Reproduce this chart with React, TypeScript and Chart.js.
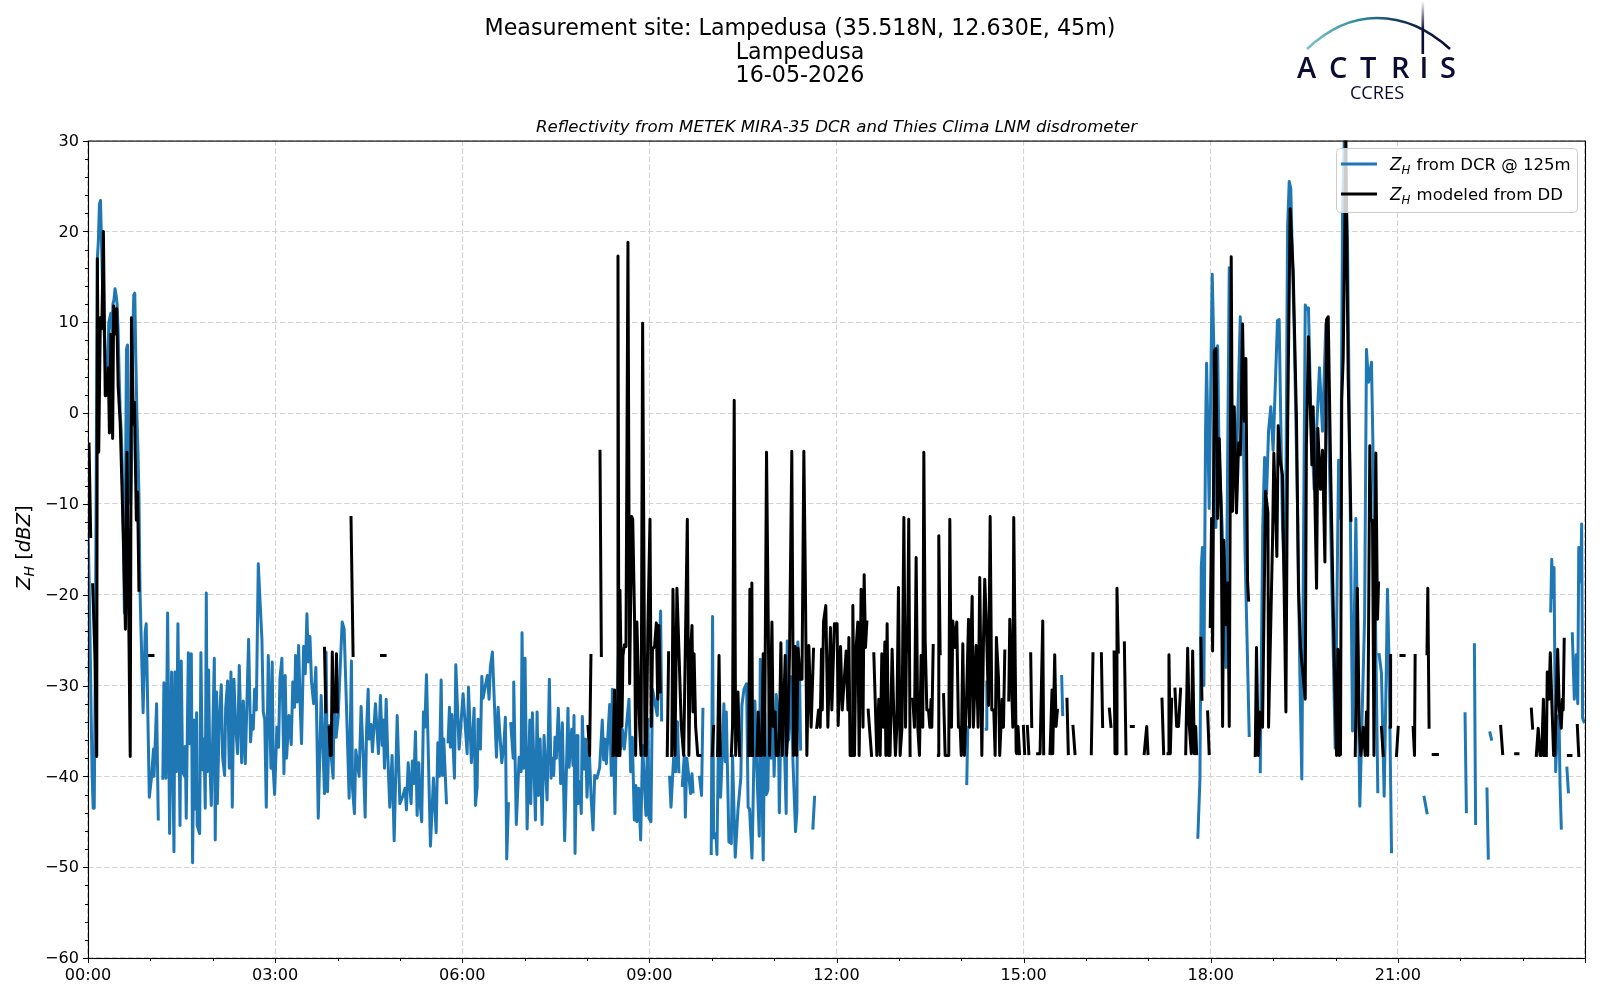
import React, { useEffect, useRef } from "react";
import { Chart, registerables } from "chart.js";

Chart.register(...registerables);

type Pt = [number, number | null];

const FONT = "'DejaVu Sans'";
const titleLines = ["Measurement site: Lampedusa (35.518N, 12.630E, 45m)", "Lampedusa", "16-05-2026"];
const subtitleText = "Reflectivity from METEK MIRA-35 DCR and Thies Clima LNM disdrometer";
const dcrLabel = " from DCR @ 125m";
const ddLabel = " modeled from DD";
const xMajorLabels = ["00:00", "03:00", "06:00", "09:00", "12:00", "15:00", "18:00", "21:00"];

const dcrNight: Pt[] = [
  [0,-12],[1,-18],[2,-25],[3,-33],[4,-40],[5,-43.5],[6,-43.5],[7,-28],[8,-5],[9,17],[10,19],[11,23],[12,23.4],[13,19],[14,14],[15,10],[16,8],[17,4],[18,2],[19,5],[20,10],[21,10.5],[22,11],[23,9],[24,12],[25,12.5],[26,13.7],[27,13],[28,12],[29,9],[30,4],[31,0],[32,-2],[33,-6],[34,-14],[35,-22],[36,-10],[37,7],[38,7.5],[39,-3],[40,-8],[41,-10],[42,-5],[43,8],[44,13],[45,13.2],[46,6],[47,0],[48,-4],[49,-9],[50,-19.4],[53,-33],[55,-24.1],[56,-23.2],[59,-42.3],[61,-40.2],[63,-37],[63.5,-40],[66,-32],[67.6,-44.7],[68,null],
  [72,-40.2],[73,-29.7],[75,-40.2],[76.6,-22],[78.5,-46.3],[80.4,-28.5],[82.7,-48.3],[83.6,-28.5],[85,-39.5],[86.5,-23.2],[88.5,-45.4],[89.7,-27.3],[91,-39.5],[93,-40],[93.6,-36.7],[94.5,-44.6],[96.5,-26.4],[97.7,-36.4],[99.4,-26.5],[100.6,-49.5],[102,-33.8],[103,-43.6],[104.5,-33],[105,-45.4],[107.4,-46.3],[108.6,-26.4],[110,-39.3],[111.5,-35.9],[112.8,-43.5],[113.8,-19.8],[114.7,-39.5],[116,-28.3],[117,-37.7],[118.6,-43.2],[121.5,-27],[122.4,-47],[123.7,-30.7],[124.4,-43],[126.3,-33.7],[128.2,-29.9],[129.5,-37.9],[131.4,-39.9],[132.4,-32.5],[134.3,-29.5],[135.9,-39.1],[137.5,-28.5],[138.8,-43.4],[140.4,-29.3],[142,-34.4],[143.9,-37.5],[145.5,-27.8],[147.8,-38.5],[149.4,-31.7],[151.3,-38.6],[154.5,-24.9],[156.4,-36.2],[158,-33.3],[159,-34.8],[160.3,-30.4],[161.9,-32.7],[163.8,-16.6],[165.7,-21.2],[167.3,-24.9],[168.6,-32.9],[170,-33.7],[171.5,-43.4],[173.4,-26.7],[176,-39.1],[177.2,-27.4],[178.2,-39.3],[179.5,-42],[181.7,-34.6],[183.3,-36.8],[184.6,-29.3],[186.5,-27],[188.5,-39.7],[189.7,-28.9],[191,-38],[193.3,-33.3],[195.5,-36.5],[197,-29.6],[198.7,-32.4],[199.7,-26.7],[201.3,-31.8],[202.6,-25.6],[204,-31.9],[205.4,-36.4],[207.4,-25.7],[209,-28.7],[210.6,-22.1],[211.9,-27.4],[213.5,-24.6],[215,-29.6],[217,-32],[219.2,-28],[221.5,-44.6],
];

const dcrDawn: Pt[] = [
  [224.3,-31.1],[227.5,-41.9],[229,-26.3],[230.4,-41.7],[232,-34.4],[233.6,-37.3],[235.8,-40.2],[236.8,-31.5],[238.7,-35.7],[240.6,-33.5],[242,-29.6],[244.5,-23],[246.4,-23.8],[248.6,-32.2],[251.2,-42.4],[253.4,-27.3],[254.4,-41.3],[256.3,-44.1],[257.6,-37.1],[260.8,-40],[262.7,-32.3],[264.6,-37.3],[266.6,-44.5],[267.9,-35.1],[269.5,-30.4],[270.4,-35.9],[272.3,-34.3],[273.6,-37.3],[276.5,-32],[279.4,-37.5],[281.3,-31.1],[283,-36.6],[284,-33.8],[285.2,-39.1],[286.8,-31.5],[288.4,-37.9],[290.3,-43.4],[292.5,-37.7],[294.5,-47.1],[297.4,-33.3],[300,-43],[303,-42.1],[305,-41.3],[306.3,-43.7],[308,-38.5],[310.8,-43],[312,-38.3],[313.4,-40.8],[315,-35.1],[316.6,-44.3],[318.2,-38.5],[319.8,-43.4],[321,-45],[322.7,-32.9],[324,-34.6],[325.6,-28.8],[329.4,-47.7],[332.3,-40.2],[334.9,-46.2],[336.5,-36.3],[338,-40],[339.7,-29.4],[341,-39.9],[342.2,-35.9],[344.8,-42.9],[345.5,null],
  [346.4,-36.2],[347.7,-32.4],[348.6,-36.8],[350,-33.2],[352.5,-40.2],[353.8,-27.7],[357,-37],[360.8,-30.9],[364.7,-37.5],[366,-30.2],[368.8,-38.5],[371.4,-32.5],[372.7,-43.2],[374.3,-41.2],[375.2,-33.7],[377.5,-37],[378.8,-29],[380,-31.4],[382.6,-29.8],[384.2,-28.9],[385.8,-31.5],[387,-28],[389,-26.3],[391,-32.2],[392.9,-37.9],[394.5,-32.4],[398,-38.5],[400,-36.6],[401.5,-33.5],[402.8,-49.1],[404.4,-43],[405.5,null],
  [406.7,-34.2],[409,-38],[409.5,-29.6],[412,-45.3],[414.7,-37.9],[416.6,-39.5],[417.5,-24.2],[419,-39.1],[420.4,-27],[422.4,-45.8],[425,-33.8],[425.9,-43],[427.5,-33],[430.4,-44.8],[432,-32.9],[433.3,-42.1],[434.9,-35.9],[436.8,-45.3],[438.7,-35.5],[441.6,-42.6],[443.8,-29.3],
];

const dcrMorning: Pt[] = [
  [445.4,-40.2],[447,-38],[448,-39.9],[449.2,-35.7],[450.5,-38],[452.4,-32.5],[454.7,-40.8],[456.3,-34.1],[458.5,-47.1],[461.7,-32.5],[462.7,-39],[465.3,-34.8],[466.5,-38.8],[467.5,-33.3],[468.5,-48.5],[470.4,-35.5],[471.3,-43],[473,-40.6],[474.5,-44.1],[475.5,-33.4],[477,-39.2],[478.7,-35.9],[480,-42.3],[482,-36.6],[484,-42.4],[485.8,-45.9],[487.4,-39.9],[489.6,-40.2],[492.2,-39],[494.7,-33.8],[496,-38.2],[497.3,-35.9],[498.6,-38.6],[501.8,-32.1],[503.4,-39.9],[504.4,-30.4],[506.9,-44.1],[508.2,-34.4],[510.4,-26],[512.4,-37],[514,-34.8],[515.9,-37],[518.5,-33.7],[520.4,-31.5],[522,-39.5],[523.6,-35.7],[525.5,-44.8],[527,-41],[528,-45],[529.7,-41.3],[531.6,-47],[533.5,-36.6],[536.7,-44.3],[538.6,-33.7],[539.6,-44.6],[541.5,-45],[543,-30.4],[547.6,-33.3],[550.8,-21.8],[551.8,-33.8],[552.5,null],
  [559.5,-40.1],[560.8,-43.4],[563.3,-38],[565.2,-39.5],[567,-34],[568.4,-39.5],[569,null],[571.7,-41],[573.6,-37.7],[574.6,-44.5],[576,-38],[579.7,-41.9],[581,-39.7],[582,-41.7],[583,null],
  [588.3,-40.1],[590.2,-42.1],[591.5,-32.6],[592,null],[599.5,-48.5],[600.8,-22.4],[601.8,-46.8],[604,-46.3],[605,-48.6],[606.6,-34.4],[608.5,-42.3],[609.8,-38.4],[611.7,-32],[613,-38.4],[614,-32.9],[616.5,-47.2],[618.8,-47.4],[620,-37.7],[622.6,-48.9],[625.2,-43.7],[628,-40.1],[629,-32.2],[631,-30.4],[633.5,-29.8],[635,-43.4],[636.4,-43.6],[638.7,-49],[639.6,-44.1],[641.5,-31.7],[643,-38],[645.7,-46.6],[646.7,-27.1],[648,-39.2],[649.5,-49.2],[651,-33],[652.5,-42],[654,-41.5],[655.5,-30],[657,-38],[658.5,-32],[660,-40],[662,-31],[664,-33],[665,-44],[666.5,-34],[668,-30],[670,-37],[671.6,-44.1],[672.6,-25.1],[674,-36],[676,-29],[678,-38],[680.6,-46.1],[681.9,-43.9],[682.8,-25.2],[684.4,-28.5],[685.5,-37],[686,null],
  [697.3,-45.7],[698.9,-42.3],[699.5,null],
  [845.3,-40.8],[846.3,-34.6],[847,null],[864,-34.8],[864.6,-29.6],[865,null],[936.6,-29],[937.6,-33.2],[938,null],
];

const dcrEvening: Pt[] = [
  [1067.6,-46.7],[1069.6,-40.3],[1070.9,-16.9],[1072,-14.8],[1073.4,-30],[1075,-2],[1076,5.5],[1078.5,-10.5],[1081.4,15.3],[1083,7],[1085,-12.6],[1086.6,7.4],[1088,-4.6],[1091,-12.6],[1094.6,-28],[1097.8,16],[1100.5,-7],[1104.5,-7],[1108.4,10.6],[1111.2,-0.4],[1113,-15.3],[1117,-35.5],[1118,null],
  [1127.6,-39.5],[1130,-12.6],[1131.8,-4.9],[1133.7,-8.9],[1135.6,-2],[1137.8,0.7],[1140,-4.1],[1144.2,10.2],[1145.8,10.3],[1149,-12.6],[1151.6,-20.6],[1153.9,20.4],[1155.5,25.5],[1157,24.7],[1160.3,8.7],[1163.5,-10.5],[1165.7,-28.6],[1167.6,-40.3],[1170.9,11.9],[1172.2,11.4],[1174,11.6],[1176.3,-0.4],[1179.5,-8.4],[1181.8,-2],[1184.6,5],[1187.5,-2],[1190.7,9.8],[1194,-4.6],[1199.7,-36.9],[1203,-5.2],[1205,-11.6],[1206.8,22],[1208.4,30],[1211.5,19.3],[1216.4,-35],[1219.6,-11.6],[1221,-23.3],[1223.4,-43.3],[1228,-22.5],
  [1229.8,7],[1231.7,3.4],[1234.6,5.6],[1237,-10],[1240.7,-41.7],[1241,null],[1242,-26.6],[1244.2,-28.6],[1246.8,-42.2],[1249,-27.3],[1250,-19.4],[1251.5,-27.3],[1253.9,-48.3],[1254.5,null],
  [1285.3,-42.3],[1288,-44],[1288.5,null],[1324.6,-33.1],[1325.9,-43.9],[1326.5,null],[1333.6,-25.5],[1334.8,-45.2],[1335.5,null],[1345.7,-41.4],[1347,-49],[1347.5,null],[1348.6,-35.2],[1350,-35.9],[1351,null],
  [1407,-21.8],[1408,-16.1],[1409.2,-20.3],[1410.2,-17],[1411.8,-39.5],[1413.7,-33.5],[1415,-33.3],[1416,-41],[1417.2,-45.7],[1418,null],[1422.6,-39.1],[1424,-41.7],[1425,null],
  [1427.8,-24.3],[1429.7,-31.5],[1431.6,-26.6],[1433,-32],[1434,-14.8],[1435.8,-18.6],[1436.8,-12.2],[1437.7,-33.6],[1439,-34],
];

const ddNight: Pt[] = [
  [1,-3.4],[2.6,-13.6],[3.5,null],[4.5,-18.9],[6.8,-27.2],[8.4,-37.8],[9,17],[10.3,-4.3],[11.9,10.5],[13.3,9.3],[14.8,20],[16.6,1.9],[18.5,2],[19.5,5],[20.6,-2.2],[22,8.7],[23.7,-2.8],[24.7,11.8],[26,8.7],[27.6,11.5],[29,3],[31,-1.2],[34,-13.6],[36,-23.8],[37.5,-4.3],[40.6,-37.8],[41.8,10.5],[43.7,-1.2],[44.7,1.2],[46.5,-11.8],[47.7,-8.7],[49,-19.5],[50,null],
  [59.3,-26.7],[62.5,-26.7],[63,null],
  [227.5,-25.9],[228.8,-32.9],[230,null],[232,-34.6],[233,-37.7],[234,-37.7],[235,-26.3],[236,-32.9],[237,-31.5],[238,-32.9],[239,-26.5],[240,-32.9],[241,null],
  [253,-11.5],[255,-26.7],[256,null],[282.3,-26.7],[285.8,-26.7],[286,null],
  [481,-34.5],[482.5,-37.7],[483.8,-26.7],[484.5,null],[492.5,-4.2],[493.8,-26.7],[494.5,null],
];

const ddForenoon: Pt[] = [
  [505,-37.7],[506.5,-30.5],[508,-37.7],[509,-37.7],[509.8,17.3],[510.8,-37.7],[511.7,-19.5],[513.6,-34.5],[514.6,-26.7],[516,-25.5],[517.5,-25.7],[519.4,18.8],[521,-29.8],[523,-11.4],[524,-11.7],[525.8,-23],[526.8,-37.7],[528,-23],[530.6,-34.5],[532,-37.7],[533.5,9.9],[535.8,-37.7],[537,-37.7],[538.6,-23.3],[540.6,-11.7],[541.8,-34.5],[543,-26],[545,-25.7],[546.7,-23.1],[548,-31.5],[549.2,-23.4],[550.5,-30.7],[551,null],
  [557.2,-37.7],[558.5,-26.4],[559.5,null],[561.5,-37.7],[562.7,-19.4],[564.6,-37.7],[566.5,-19.3],[568.4,-26],[570.7,-34.5],[573,-37.7],[574.5,-26.5],[576.5,-11.7],[578,-37.7],[579.5,-26.5],[581,-23.4],[582,-32.9],[583,-26.5],[584.5,-34.5],[586.5,-37.7],[588.6,-37.7],[589,null],
  [600.5,-37.7],[601.8,-34.5],[602.5,null],[605.6,-37.7],[607,-26.7],[608.2,-37.7],[609,null],
  [618.8,-37.7],[620,-34.5],[621.6,1.4],[623,-37.7],[625.2,-30.7],[626.8,-37.7],[627.5,null],
  [635.5,-37.7],[636.7,-19.4],[637.7,-37.7],[638.6,-18.7],[639.2,-37.7],[640,null],
  [643.5,-37.7],[644.7,-32.9],[646,-37.7],[648,-37.7],[649.5,-26.5],[650.8,-37.7],[652.7,-4.3],[655.6,-37.7],[657.9,-23],[659,-34.5],[661,-32.9],[662,-37.7],[664,-37.7],[665.2,-34.5],[666.5,-25.3],[667.8,-37.7],[670.7,-26.7],[672,-37.7],[673.3,-34.5],[674.8,-26.5],[677,-4.2],[678.7,-37.7],[680.3,-25.7],[681.6,-37.7],[683,-25.9],[685,-29.3],[686.8,-29.3],[688.6,-4.2],[690,-17.9],[691.5,-37.7],[693.4,-25.6],[695.6,-34.6],[697.9,-26],[698.5,null],
  [701,-34.6],[702.7,-32.7],[704.3,-34.6],[705.6,-26],[706.3,-32.7],[707.5,-23],[709.7,-21.2],[711.7,-34.6],[714.2,-23.6],[715.5,-32.7],[718,-23.2],[720.6,-23.2],[721.6,-34.4],[723.9,-25.7],[725.5,-32.7],[729.3,-26.2],[731,-32.7],[731.9,-24.7],[733.1,-37.7],[735,-37.7],[735.7,-21.2],[737.3,-37.7],[738.6,-26.3],[740.5,-23],[741.8,-37.7],[743.7,-19.4],[745.5,-34.6],[746.6,-17.8],[747.9,-25.8],[749.2,-23],[750,null],
];

const ddAfternoon: Pt[] = [
  [750.5,-32.7],[751.7,-34.6],[753.7,-37.7],[754.5,null],
  [755.9,-26.5],[757.5,-32.7],[758.8,-37.7],[760.7,-31.5],[762,-37.7],[763.6,-26.5],[765,-34.6],[766.5,-25.2],[767.5,-37.7],[768.7,-23.2],[770,-37.7],[771.5,-37.7],[773.5,-26],[775,-32.7],[776.7,-37.7],[778,-34.6],[779.6,-19.2],[781.2,-37.7],[783,-34.6],[784.8,-11.5],[786.4,-34.6],[787.3,-25.4],[788.3,-26.2],[789.5,-11.7],[790.8,-37.7],[791.5,null],
  [793.4,-31.5],[795,-34.6],[796.6,-15.9],[798.2,-34.6],[799.8,-37.7],[801.4,-26.7],[803,-34.6],[804,-4.3],[805.3,-24.9],[806.9,-32.7],[808.5,-32.7],[809.8,-34.6],[811,-31.5],[811.7,-34.6],[813,-25.6],[813.5,null],
  [818,-37.7],[818.4,-13.5],[819.7,-26.5],[820.5,null],[823,-31],[824.5,-37.7],[826.5,-37.7],[828,-37.7],[829,-11.7],[830.6,-34.6],[831.9,-22.9],[834,-25.8],[835.7,-23],[837.3,-34.6],[839,-34.6],[840,-37.7],[841.5,-25.4],[843,-37.7],[845,-32],[847,-22.7],[848,-34.6],[849.2,-26],[850.5,-20.2],[851.7,-34.6],[854.3,-25.6],[856.2,-34.6],[857.8,-18.1],[859.8,-37.7],[861.4,-24.9],[862.6,-18.3],[864,-22.7],[866.2,-32.2],[867.8,-11.4],[869.4,-32.7],[871.3,-32.7],[872.6,-37.7],[873.8,-24.7],[875.8,-29.1],[877,-37.7],[879.3,-31.5],[880.6,-34.6],[881.9,-26.2],[882.5,null],
  [885.7,-31.6],[886.7,-22.7],[889.6,-34.6],[890.5,-11.5],[892.8,-37.3],[893.4,-37.5],[894.6,-34.5],[896,-37.5],[896.5,null],
  [899.8,-34.5],[901,-37.5],[902,null],[903.6,-34.5],[905,-37.5],[905.5,null],[906.8,-26.5],[907.8,-34.5],[908.5,null],
  [913.5,-37.5],[915.8,-37.5],[918.4,-22.9],[919.3,-37.5],[920,null],
  [925.4,-37.5],[927.3,-30.5],[928,-37.5],[929.9,-26.6],[931.2,-34.5],[932.5,-32.7],[933,null],
  [941.7,-31.5],[943,-37.5],[943.5,null],[947.5,-34.5],[949.4,-37.5],[950,null],
  [965.1,-37.5],[966.7,-26.5],[967.5,null],[974.8,-26.5],[976,-34.5],[976.5,null],[982.5,-32.6],[984,-34.5],[984.5,null],
  [987,-26.3],[987.9,-37.5],[988.9,-37.5],[989.8,-19.3],[991.1,-26.3],[991.8,null],[996.9,-25.3],[998.5,-37.5],[999.4,-37.5],[1000,null],
  [1003.6,-34.5],[1005.5,-34.5],[1006,null],[1016,-37.5],[1018.4,-34.5],[1019.6,-37.5],[1020,null],
  [1033.1,-31.5],[1034.7,-37.5],[1035.2,null],[1038.9,-37.5],[1039.8,-26.6],[1041.1,-37.5],[1042.4,-31.5],[1043,null],
  [1045.6,-30.4],[1047.2,-34.5],[1049,-34.5],[1051,-30.4],[1051.5,null],
  [1055.9,-37.5],[1057.8,-25.9],[1059.4,-34.5],[1061.3,-37.5],[1062.6,-26.2],[1064.2,-37.5],[1065.5,-34.5],[1066.4,-37.5],[1067,null],
];

const ddEvening: Pt[] = [
  [1070.5,-24.8],[1071.5,-31.5],[1072,null],[1077,-32.9],[1078.5,-37.5],[1079,null],
  [1079.5,-23.5],[1080.8,-11.6],[1081.8,-26.2],[1083.4,6.8],[1085,7.1],[1086.6,-11.6],[1088.2,-2.8],[1090,-10.5],[1091.4,-34.5],[1092.6,-14],[1094.6,-23.3],[1096.5,-18.7],[1097.8,-34.5],[1099.7,17.2],[1101,-10.8],[1102.6,0.7],[1104.8,-11],[1106.8,-3.3],[1108.5,-4.6],[1110.6,9.8],[1112.2,-0.9],[1113.8,6],[1115.4,-18.5],[1116.4,-20.6],[1117,null],
  [1122.8,-37.7],[1124,-25.8],[1125.7,-37.7],[1127.6,-32.9],[1129.8,-34.6],[1132.7,-8.6],[1135,-11],[1135.6,-34.6],[1139.4,-14.2],[1140.7,-4.4],[1143.6,-15.8],[1144.9,-1.4],[1146.8,-5.2],[1149,-6.8],[1152.3,-32.9],[1154,-1],[1156.4,22.5],[1159.3,15.6],[1162.5,-0.9],[1164.4,-19.5],[1166.4,-25.9],[1170.9,-31.5],[1172,-3.6],[1174,8.4],[1177.3,-5.7],[1178.5,0.7],[1181.8,-19.3],[1183,-1.7],[1185.6,-8.4],[1187.5,-4.1],[1189.8,-16.4],[1191.4,10.3],[1193,10.6],[1195.5,-7.3],[1198.7,-26.7],[1201,-37.7],[1202.3,-26],[1203.5,-37.7],[1204.8,-37.6],[1206,1.5],[1207.4,6],[1210,30],[1212.2,3.9],[1214.8,-11.8],[1215.5,null],
  [1219,-37.7],[1221,-19.3],[1222.8,-34.6],[1224.4,-37.7],[1226.6,-34.6],[1228.5,-37.7],[1229.8,-32.9],[1231,-37.7],[1233,-3.6],[1234,-11.8],[1235.6,-11.8],[1237,-37.7],[1238.8,-4.4],[1240.4,-22.7],[1241.4,-18.7],[1242,null],
  [1244.2,-34.6],[1245.9,-37.7],[1246.5,null],[1252.6,-34.6],[1253,-26.7],[1253.5,null],
  [1258.7,-37.7],[1260.3,-34.6],[1261,null],[1263,-26.7],[1266,-26.7],[1266.5,null],
  [1274.7,-34.6],[1276,-37.7],[1276.6,-26.7],[1277,null],[1288,-26.5],[1288.8,-19.3],[1290,-34.6],[1290.5,null],[1294,-37.6],[1298,-37.6],[1298.5,null],
  [1358.9,-34.5],[1360.8,-37.5],[1361.5,null],[1373.3,-37.5],[1375.5,-37.5],[1376,null],
  [1388.4,-32.6],[1389.6,-34.7],[1390.5,null],[1393.2,-37.7],[1395,-34.7],[1396.7,-37.7],[1398.3,-37.7],[1400,-31.5],[1401,-37.7],[1401.5,null],
  [1402.8,-37.7],[1403.7,-28.5],[1405.3,-31.5],[1406.6,-26.4],[1408,-31.5],[1409.8,-37.7],[1411,-37.7],[1413.7,-26],[1415.3,-32.7],[1417.2,-34.7],[1418.2,-31.5],[1419,-32.7],[1420,-24.9],[1420.5,null],
  [1424,-37.7],[1426.5,-37.7],[1427,null],[1432.6,-34.4],[1434,-37.7],[1434.5,null],
];

const dcrPoints = [...dcrNight, ...dcrDawn, ...dcrMorning, ...dcrEvening];
const ddPoints = [...ddNight, ...ddForenoon, ...ddAfternoon, ...ddEvening];
const asXY = (list: Pt[]) => list.map(([x, y]) => ({ x, y }));

const PLOT_BOTTOM = 958, PLOT_LEFT = 88, PLOT_RIGHT = 1585;
const BLUE = "#1f77b4";
const LINE_W = 3;

function drawZH(ctx: CanvasRenderingContext2D, x: number, y: number, size: number) {
  ctx.font = `italic ${size}px ${FONT}`;
  ctx.fillText("Z", x, y);
  const zw = ctx.measureText("Z").width;
  ctx.font = `italic ${size * 0.7}px ${FONT}`;
  ctx.fillText("H", x + zw, y + size * 0.22);
  return zw + ctx.measureText("H").width;
}

const decorPlugin = {
  id: "decor",
  afterDatasetsDraw(chart: any) {
    const { ctx, chartArea: a, scales } = chart;
    ctx.save();
    ctx.strokeStyle = "#000";
    ctx.lineWidth = 1;
    for (let v = -60; v <= 30; v += 2) {
      const y = Math.round(scales.y.getPixelForValue(v)) + 0.5;
      const len = v % 10 === 0 ? 5 : 3;
      ctx.beginPath(); ctx.moveTo(a.left - len, y); ctx.lineTo(a.left, y); ctx.stroke();
    }
    for (let m = 0; m <= 1440; m += 60) {
      const x = Math.round(scales.x.getPixelForValue(m)) + 0.5;
      const len = m % 180 === 0 ? 5 : 3;
      ctx.beginPath(); ctx.moveTo(x, a.bottom); ctx.lineTo(x, a.bottom + len); ctx.stroke();
    }
    ctx.lineWidth = 1.1;
    ctx.strokeRect(a.left + 0.5, a.top + 0.5, a.right - a.left, a.bottom - a.top);

    // y axis label
    ctx.save();
    ctx.translate(30, (a.top + a.bottom) / 2);
    ctx.rotate(-Math.PI / 2);
    ctx.fillStyle = "#000";
    ctx.textBaseline = "alphabetic";
    ctx.textAlign = "left";
    const sz = 19.6;
    let lx = -40.5;
    lx += drawZH(ctx, lx, 0, sz);
    ctx.font = `${sz}px ${FONT}`;
    ctx.fillText(" [", lx, 0); lx += ctx.measureText(" [").width;
    ctx.font = `italic ${sz}px ${FONT}`;
    ctx.fillText("dBZ", lx, 0); lx += ctx.measureText("dBZ").width;
    ctx.font = `${sz}px ${FONT}`;
    ctx.fillText("]", lx, 0);
    ctx.restore();

    // legend
    const bx = 1336, by = 148, bw = 241, bh = 64;
    ctx.beginPath();
    ctx.roundRect(bx + 0.5, by + 0.5, bw, bh, 4);
    ctx.fillStyle = "rgba(255,255,255,0.8)";
    ctx.fill();
    ctx.strokeStyle = "#cccccc";
    ctx.lineWidth = 1;
    ctx.stroke();
    const rows = [
      { color: BLUE, y: 164, text: dcrLabel },
      { color: "#000000", y: 194, text: ddLabel },
    ];
    for (const r of rows) {
      ctx.strokeStyle = r.color;
      ctx.lineWidth = LINE_W;
      ctx.beginPath(); ctx.moveTo(1341, r.y); ctx.lineTo(1377, r.y); ctx.stroke();
      ctx.fillStyle = "#000";
      ctx.textBaseline = "alphabetic";
      ctx.textAlign = "left";
      const tx = 1390, ty = r.y + 6;
      const w = drawZH(ctx, tx, ty, 16.8);
      ctx.font = `16.5px ${FONT}`;
      ctx.fillText(r.text, tx + w + 1, ty);
    }
    ctx.restore();
  },
};

export default function App() {
  const ref = useRef<HTMLCanvasElement | null>(null);
  useEffect(() => {
    if (!ref.current) return;
    const gridColor = (ctx: any) => {
      const v = ctx.tick?.value;
      const major = ctx.scale.axis === "x" ? v % 180 === 0 : v % 10 === 0;
      return major ? "#d3d3d3" : "rgba(0,0,0,0)";
    };
    const chart = new Chart(ref.current, {
      type: "line",
      data: {
        datasets: [
          { label: "ZH" + dcrLabel, data: asXY(dcrPoints), borderColor: BLUE, backgroundColor: BLUE, borderWidth: LINE_W, pointRadius: 0, tension: 0, spanGaps: false, order: 2, borderJoinStyle: "round", borderCapStyle: "square" },
          { label: "ZH" + ddLabel, data: asXY(ddPoints), borderColor: "#000000", backgroundColor: "#000000", borderWidth: LINE_W, pointRadius: 0, tension: 0, spanGaps: false, order: 1, borderJoinStyle: "round", borderCapStyle: "square" },
        ],
      } as any,
      options: {
        animation: false,
        responsive: false,
        devicePixelRatio: 1,
        layout: { padding: 0 },
        plugins: {
          legend: { display: false },
          tooltip: { enabled: false },
          title: {
            display: true,
            text: titleLines,
            color: "#000",
            font: { family: FONT, size: 22.2, weight: "normal", lineHeight: 1.05 },
            padding: { top: 18, bottom: 30.6 },
            fullSize: true,
          },
          subtitle: {
            display: true,
            text: subtitleText,
            color: "#000",
            font: { family: FONT, size: 16.6, style: "italic", weight: "normal", lineHeight: 1.15 },
            padding: { top: 0, bottom: 3 },
            fullSize: false,
          },
        },
        scales: {
          x: {
            type: "linear",
            min: 0,
            max: 1440,
            afterFit: (s: any) => { s.height = 1000 - PLOT_BOTTOM; },
            ticks: {
              stepSize: 60,
              autoSkip: false,
              maxRotation: 0,
              padding: 8,
              color: "#000",
              font: { family: FONT, size: 16.1 },
              callback: (v: any) => (v % 180 === 0 && v < 1440 ? xMajorLabels[v / 180] : ""),
            },
            grid: { color: gridColor, lineWidth: 1.1, drawTicks: false },
            border: { display: false, dash: [5.5, 2.5] },
          },
          y: {
            min: -60,
            max: 30,
            afterFit: (s: any) => { s.width = PLOT_LEFT; },
            ticks: {
              stepSize: 2,
              autoSkip: false,
              padding: 9,
              labelOffset: 1,
              color: "#000",
              font: { family: FONT, size: 16.1 },
              callback: (v: any) => (v % 10 === 0 ? String(v).replace("-", "\u2212") : ""),
            },
            grid: { color: gridColor, lineWidth: 1.1, drawTicks: false },
            border: { display: false, dash: [5.5, 2.5] },
          },
          rightMargin: {
            type: "linear",
            position: "right",
            display: true,
            afterFit: (s: any) => { s.width = 1600 - PLOT_RIGHT; },
            ticks: { display: false },
            grid: { display: false, drawTicks: false },
            border: { display: false },
          },
        },
      } as any,
      plugins: [decorPlugin],
    });
    return () => chart.destroy();
  }, []);

  return (
    <div style={{ position: "absolute", left: 0, top: 0, width: 1600, height: 1000, background: "#fff" }}>
      <canvas ref={ref} width={1600} height={1000} style={{ display: "block" }} />
      <svg width={1600} height={110} style={{ position: "absolute", left: 0, top: 0, pointerEvents: "none" }}>
        <defs>
          <linearGradient id="arcGrad" x1="1307" y1="0" x2="1450" y2="0" gradientUnits="userSpaceOnUse">
            <stop offset="0" stopColor="#7cc5c4" />
            <stop offset="0.35" stopColor="#2f8f9e" />
            <stop offset="0.7" stopColor="#0f2d4f" />
            <stop offset="1" stopColor="#0b0b33" />
          </linearGradient>
          <linearGradient id="barGrad" x1="0" y1="2" x2="0" y2="30" gradientUnits="userSpaceOnUse">
            <stop offset="0" stopColor="#0b0b33" stopOpacity="0.05" />
            <stop offset="1" stopColor="#0b0b33" stopOpacity="1" />
          </linearGradient>
        </defs>
        <path d="M1307 49 Q1340 18 1377 18 Q1416 18 1450 49" fill="none" stroke="url(#arcGrad)" strokeWidth="2.6" />
        <rect x="1421.5" y="2" width="2.6" height="52" fill="url(#barGrad)" />
        <g fill="#0b0b33" fontFamily="'Open Sans'" >
          <text x="1297" y="78" fontSize="29" fontWeight="600">A</text>
          <text x="1329" y="78" fontSize="29" fontWeight="600">C</text>
          <text x="1360" y="78" fontSize="29" fontWeight="600">T</text>
          <text x="1391" y="78" fontSize="29" fontWeight="600">R</text>
          <text x="1419.5" y="78" fontSize="29" fontWeight="600">I</text>
          <text x="1440" y="78" fontSize="29" fontWeight="600">S</text>
          <text x="1377" y="99" fontSize="18.2" textAnchor="middle">CCRES</text>
        </g>
      </svg>
    </div>
  );
}
